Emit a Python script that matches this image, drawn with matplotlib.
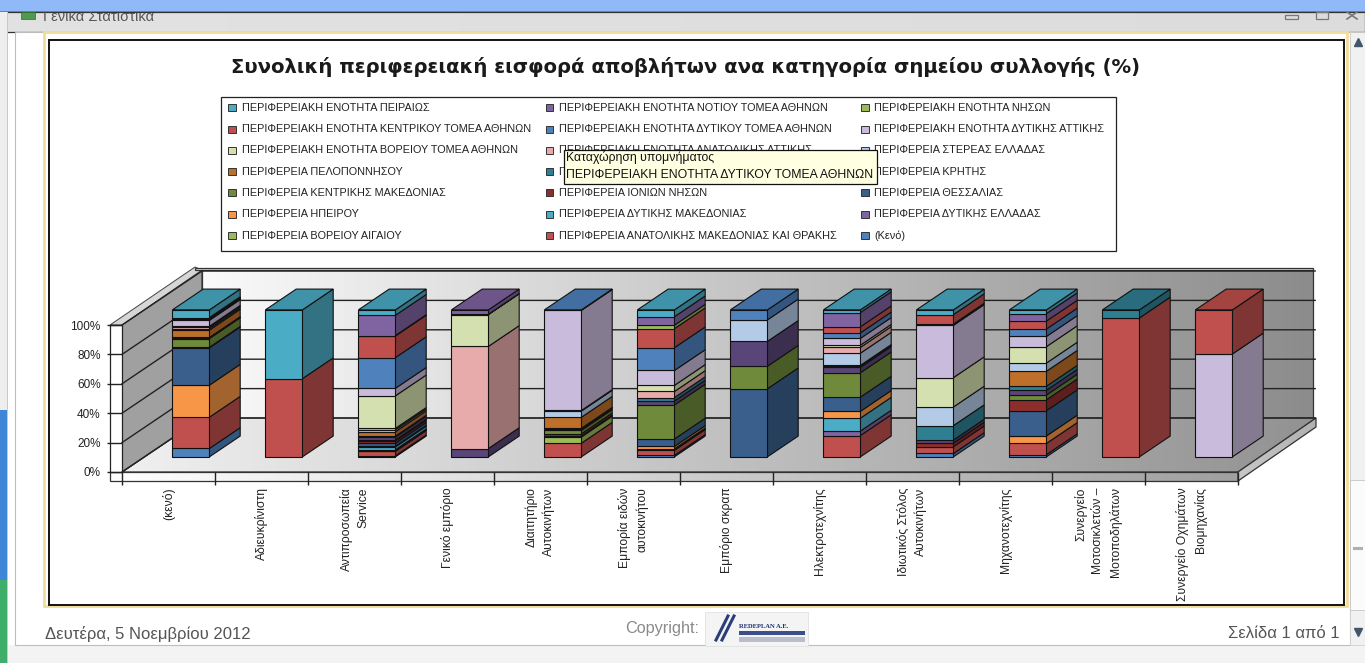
import numpy as np
import matplotlib
matplotlib.use("Agg")
import matplotlib.pyplot as plt
from matplotlib.colors import LinearSegmentedColormap, to_rgb
from matplotlib.patches import Polygon, Rectangle

plt.rcParams['font.family'] = ['Liberation Sans', 'DejaVu Sans']

title = "Συνολική περιφερειακή εισφορά αποβλήτων ανα κατηγορία σημείου συλλογής (%)"

categories = ["(κενό)", "Αδιευκρίνιστη", "Αντιπροσωπεία\nService", "Γενικό εμπόριο",
              "Διαιτητήριο\nΑυτοκινήτων", "Εμπορία ειδών\nαυτοκινήτου", "Εμπόριο σκραπ",
              "Ηλεκτροτεχνίτης", "Ιδιωτικός Στόλος\nΑυτοκινήτων", "Μηχανοτεχνίτης",
              "Συνεργείο\nΜοτοσικλετών –\nΜοτοποδηλάτων", "Συνεργείο Οχημάτων\nΒιομηχανίας"]

# stack order, bottom to top (the legend lists them the other way round)
series_names = ["(Κενό)",
                "ΠΕΡΙΦΕΡΕΙΑ ΑΝΑΤΟΛΙΚΗΣ ΜΑΚΕΔΟΝΙΑΣ ΚΑΙ ΘΡΑΚΗΣ",
                "ΠΕΡΙΦΕΡΕΙΑ ΒΟΡΕΙΟΥ ΑΙΓΑΙΟΥ",
                "ΠΕΡΙΦΕΡΕΙΑ ΔΥΤΙΚΗΣ ΕΛΛΑΔΑΣ",
                "ΠΕΡΙΦΕΡΕΙΑ ΔΥΤΙΚΗΣ ΜΑΚΕΔΟΝΙΑΣ",
                "ΠΕΡΙΦΕΡΕΙΑ ΗΠΕΙΡΟΥ",
                "ΠΕΡΙΦΕΡΕΙΑ ΘΕΣΣΑΛΙΑΣ",
                "ΠΕΡΙΦΕΡΕΙΑ ΙΟΝΙΩΝ ΝΗΣΩΝ",
                "ΠΕΡΙΦΕΡΕΙΑ ΚΕΝΤΡΙΚΗΣ ΜΑΚΕΔΟΝΙΑΣ",
                "ΠΕΡΙΦΕΡΕΙΑ ΚΡΗΤΗΣ",
                "ΠΕΡΙΦΕΡΕΙΑ ΝΟΤΙΟΥ ΑΙΓΑΙΟΥ",
                "ΠΕΡΙΦΕΡΕΙΑ ΠΕΛΟΠΟΝΝΗΣΟΥ",
                "ΠΕΡΙΦΕΡΕΙΑ ΣΤΕΡΕΑΣ ΕΛΛΑΔΑΣ",
                "ΠΕΡΙΦΕΡΕΙΑΚΗ ΕΝΟΤΗΤΑ ΑΝΑΤΟΛΙΚΗΣ ΑΤΤΙΚΗΣ",
                "ΠΕΡΙΦΕΡΕΙΑΚΗ ΕΝΟΤΗΤΑ ΒΟΡΕΙΟΥ ΤΟΜΕΑ ΑΘΗΝΩΝ",
                "ΠΕΡΙΦΕΡΕΙΑΚΗ ΕΝΟΤΗΤΑ ΔΥΤΙΚΗΣ ΑΤΤΙΚΗΣ",
                "ΠΕΡΙΦΕΡΕΙΑΚΗ ΕΝΟΤΗΤΑ ΔΥΤΙΚΟΥ ΤΟΜΕΑ ΑΘΗΝΩΝ",
                "ΠΕΡΙΦΕΡΕΙΑΚΗ ΕΝΟΤΗΤΑ ΚΕΝΤΡΙΚΟΥ ΤΟΜΕΑ ΑΘΗΝΩΝ",
                "ΠΕΡΙΦΕΡΕΙΑΚΗ ΕΝΟΤΗΤΑ ΝΗΣΩΝ",
                "ΠΕΡΙΦΕΡΕΙΑΚΗ ΕΝΟΤΗΤΑ ΝΟΤΙΟΥ ΤΟΜΕΑ ΑΘΗΝΩΝ",
                "ΠΕΡΙΦΕΡΕΙΑΚΗ ΕΝΟΤΗΤΑ ΠΕΙΡΑΙΩΣ"]

# percentages, one list per series, one value per category
keno = [5.7, 0, .7, 0, 0, 1, 0, 0, 2.3, 1.5, 0, 0]
amth = [21.2, 0, 3, 0, 9.1, 3.4, 0, 14.4, 4.6, 7.5, 94.5, 0]
v_aigaio = [0, 0, .5, 0, 4.1, .6, 0, 0, 0, 0, 0, 0]
d_ellada = [0, 0, .5, 0, .6, .4, 0, 3, 0, 0, 0, 0]
d_makedonia = [0, 0, 2, 0, 0, 0, 0, 8.7, 0, 0, 0, 0]
ipeiros = [21.7, 0, .4, 0, 0, 1.6, 0, 4.6, 0, 5, 0, 0]
thessalia = [25.3, 0, 2, 0, 0, 5, 46.3, 9.6, 0, 16.9, 0, 0]
ionia = [.4, 0, 1.5, 0, 1.5, 0, 0, 0, 2.5, 7.3, 0, 0]
k_makedonia = [5.9, 0, .6, 0, 2.3, 22.8, 15.3, 16.4, 0, 3.2, 0, 0]
kriti = [.4, 0, 2, 5.7, 1, 2.7, 16.9, 3.7, 2, 3.2, 0, 0]
n_aigaio = [.3, 0, .6, 0, .4, 2.3, 0, .8, 9.8, 2.7, 5.5, 0]
peloponnisos = [5, 0, 3, 0, 7.3, 0, 0, .5, 0, 10, 0, 0]
sterea = [1, 0, 1.2, 0, 4.1, 0, 14.6, 8.2, 12.6, 5.5, 0, 0]
an_attiki = [1, 0, 1, 69.6, 0, 4.1, 0, 3.9, 0, 0, 0, 0]
voreios = [.6, 0, 21.7, 21.7, .4, 4.1, 0, 1.5, 19.9, 11, 0, 0]
dyt_attiki = [4, 0, 5, 0, 66.4, 10, 0, 4.6, 35.4, 6.8, 0, 70]
dytikos = [.6, 0, 20.5, 0, .3, 15.3, 6.8, 3.7, .9, 5, 0, 0]
kentrikos = [.5, 53.2, 14.4, 0, 0, 12.8, 0, 4.1, 6.4, 5.3, 0, 30]
nisoi = [.3, 0, .3, .2, 0, 2.3, 0, 0, 0, 0, 0, 0]
notios = [.5, 0, 13.5, 3, 0, 5.7, 0, 9.6, 0, 5, 0, 0]
peiraias = [5.2, 46.8, 3.6, 0, 0, 4.6, 0, 1.8, 3.2, 2.5, 0, 0]

all_series = [keno, amth, v_aigaio, d_ellada, d_makedonia, ipeiros, thessalia, ionia,
              k_makedonia, kriti, n_aigaio, peloponnisos, sterea, an_attiki, voreios,
              dyt_attiki, dytikos, kentrikos, nisoi, notios, peiraias]

colors = ['#4F81BD', '#C0504D', '#9BBB59', '#8064A2', '#4BACC6', '#F79646',
          '#3A5F8C', '#8C2F2C', '#6F8A3A', '#5A4578', '#2F7F93', '#BE6F2A',
          '#B3CBE6', '#E6ABAA', '#D4E0B0', '#C9BBDC', '#4F81BD', '#C0504D',
          '#9BBB59', '#8064A2', '#4BACC6']

fig = plt.figure(figsize=(13.65, 6.63), dpi=100)

# page furniture, in screen pixels
page = fig.add_axes([0, 0, 1, 1])
page.set_xlim(0, 1365)
page.set_ylim(663, 0)
page.axis('off')


def shaded(pts, left, right, z=1):
    # polygon filled with a left to right grey ramp
    xs = [p[0] for p in pts]
    ys = [p[1] for p in pts]
    cm = LinearSegmentedColormap.from_list('g', [left, right])
    im = page.imshow(np.linspace(0, 1, 256)[None, :], cmap=cm, aspect='auto', zorder=z,
                     extent=(min(xs), max(xs), max(ys), min(ys)))
    im.set_clip_path(Polygon(pts, transform=page.transData))
    page.add_patch(Polygon(pts, closed=True, fill=False, ec='#333333', lw=0.9, zorder=z))


page.add_patch(Rectangle((0, 0), 1365, 663, fc='#ffffff', ec='none', zorder=0))
shaded([(0, 12), (1365, 12), (1365, 32), (0, 32)], '#e2e2e2', '#dcdcdc', z=0.2)
page.add_patch(Rectangle((0, 645), 1365, 18, fc='#f3f3f3', ec='none', zorder=0.2))
page.add_patch(Rectangle((0, 0), 1365, 12, fc='#8fbaf7', ec='none', zorder=3))
page.add_patch(Rectangle((0, 10.5), 1365, 1.5, fc='#4a86d8', ec='none', zorder=3))
page.add_patch(Rectangle((0, 12), 7, 398, fc='#eeeeee', ec='none', zorder=0.3))
page.add_patch(Rectangle((0, 410), 7, 170, fc='#3f86d6', ec='none', zorder=0.3))
page.add_patch(Rectangle((0, 580), 7, 83, fc='#3fae6b', ec='none', zorder=0.3))
page.add_patch(Rectangle((7, 12), 1.2, 651, fc='#c8c8c8', ec='none', zorder=0.3))
page.add_patch(Rectangle((15, 32), 1335, 613, fc='#ffffff', ec='#bdbdbd', lw=0.8, zorder=0.4))
page.add_patch(Rectangle((44, 32), 1303, 574, fc='none', ec='#f2dc9a', lw=2, zorder=0.5))
page.add_patch(Rectangle((48.5, 40), 1295.5, 565, fc='#ffffff', ec='#111111', lw=1.4, zorder=0.6))

page.add_patch(Rectangle((1350, 32), 15, 613, fc='#f1f1f1', ec='#d0d0d0', lw=0.6, zorder=0.7))
page.add_patch(Rectangle((1350, 480), 15, 130, fc='#fbfbfb', ec='#c4c4c4', lw=0.6, zorder=0.8))
page.plot([1354, 1361], [548, 548], color='#b0b0b0', lw=2.2, zorder=1)
page.plot([1358], [42], marker='^', ms=6, color='#44546a', zorder=1)
page.plot([1358], [632], marker='v', ms=6, color='#44546a', zorder=1)

page.add_patch(Rectangle((21, 12), 14, 7, fc='#4f9a4f', ec='#2f6f2f', lw=0.5, zorder=1))
page.text(43, 17, "Γενικά Στατιστικά", fontsize=10.5, color='#555555', va='center', ha='left', zorder=2)
page.add_patch(Rectangle((1285, 15), 13, 4, fc='none', ec='#777777', lw=0.9, zorder=2))
page.add_patch(Rectangle((1316, 12), 12, 7, fc='none', ec='#777777', lw=0.9, zorder=2))
page.plot([1347, 1357], [12, 19], color='#777777', lw=1.2, zorder=2)
page.plot([1347, 1357], [19, 12], color='#777777', lw=1.2, zorder=2)

# 3D walls and floor
shaded([(202, 270), (1313, 270), (1313, 418), (202, 418)], '#fafafa', '#8c8c8c', z=1)
shaded([(122, 472), (1238, 472), (1316, 418), (202, 418)], '#f0f0f0', '#929292', z=1)
shaded([(110, 472), (1238, 472), (1238, 481), (110, 481)], '#ffffff', '#a0a0a0', z=1.5)
shaded([(1238, 472), (1316, 418), (1316, 427), (1238, 481)], '#c8c8c8', '#b0b0b0', z=1.5)
page.add_patch(Polygon([(122, 325), (202, 270), (202, 418), (122, 472)], fc='#a0a0a0', ec='#333333', lw=0.9, zorder=1.5))
page.add_patch(Polygon([(110, 325), (122, 325), (202, 270), (195, 267)], fc='#d6d6d6', ec='#444444', lw=0.7, zorder=1.5))
page.add_patch(Rectangle((110, 325), 12, 147, fc='#ffffff', ec='#222222', lw=0.9, zorder=1.5))
page.add_patch(Rectangle((195, 267.5), 1118, 2.5, fc='#dddddd', ec='#333333', lw=0.9, zorder=1.5))

page.text(685.5, 67, title, fontsize=14.1, fontweight='bold', family='DejaVu Sans', color='#1a1a1a',
          ha='center', va='center', zorder=2)

# legend box, filled row by row from the end of the stack order
page.add_patch(Rectangle((220.5, 97), 895.5, 154, fc='#ffffff', ec='#222222', lw=0.9, zorder=2))
col_x = [232, 549.5, 865]
row_y = [107.7, 129, 150.3, 171.7, 192.8, 214, 235.7]
for r, y in enumerate(row_y):
    for c, x in enumerate(col_x):
        i = len(all_series) - 1 - (r * 3 + c)
        page.add_patch(Rectangle((x - 4, y - 3.5), 7.5, 7, fc=colors[i], ec='#333333', lw=0.7, zorder=2.1))
        page.text(x + 9.5, y, series_names[i], fontsize=7.85, color='#222222', va='center', ha='left', zorder=2.1)

# tooltip sits over the legend
page.add_patch(Rectangle((563.5, 150), 313.5, 34, fc='#ffffe1', ec='#111111', lw=0.9, zorder=2.5))
page.text(566, 158, "Καταχώρηση υπομνήματος", fontsize=8.85, color='#111111', va='center', ha='left', zorder=2.6)
page.text(566, 175, "ΠΕΡΙΦΕΡΕΙΑΚΗ ΕΝΟΤΗΤΑ ΔΥΤΙΚΟΥ ΤΟΜΕΑ ΑΘΗΝΩΝ", fontsize=8.85, color='#111111', va='center', ha='left', zorder=2.6)

# footer
page.text(45, 634, "Δευτέρα, 5 Νοεμβρίου 2012", fontsize=12, color='#555555', va='center', ha='left', zorder=2)
page.text(625, 628, "Copyright:", fontsize=11.7, color='#8a8a8a', va='center', ha='left', zorder=2)
page.text(1340, 634, "Σελίδα 1 από 1", fontsize=12, color='#555555', va='center', ha='right', zorder=2)
page.add_patch(Rectangle((705, 612), 103, 34, fc='#f4f4f4', ec='#dddddd', lw=0.5, zorder=1))
page.plot([716, 728], [640, 616], color='#2a3f7a', lw=2.2, zorder=2)
page.plot([722, 734], [640, 616], color='#2a3f7a', lw=2.2, zorder=2)
page.text(739, 626, "REDEPLAN A.E.", fontsize=4.8, fontweight='bold', family='Liberation Serif', color='#1f2f70', va='center', ha='left', zorder=2)
page.add_patch(Rectangle((739, 631), 66, 4, fc='#3c4f8c', ec='none', zorder=2))
page.add_patch(Rectangle((739, 637), 66, 5, fc='#b9bdcc', ec='none', zorder=2))

# chart axes: x in categories, y in percent
ax = fig.add_axes([122 / 1365, (663 - 472) / 663, 1116 / 1365, 147 / 663], zorder=2)
ax.patch.set_alpha(0)
ax.set_xlim(0, len(categories))
ax.set_ylim(0, 100)
for s in ax.spines.values():
    s.set_visible(False)

depth_x = 80 / 93      # full floor depth, in category widths
depth_y = 54 / 1.47    # full floor depth, in percent units
bar_front = 0.28
bar_depth = 0.385
bar_width = 37 / 93
edge = '#111111'


def darker(c, f):
    return tuple(v * f for v in to_rgb(c))


yticks = [0, 20, 40, 60, 80, 100]
ax.set_yticks(yticks)
ax.set_yticklabels([f"{v}%" for v in yticks], fontsize=8.5, color='#222222')
ax.tick_params(axis='y', length=10.8, width=1, color='#222222', pad=4.5)
ax.set_xticks(np.arange(len(categories) + 1))
ax.set_xticklabels([])
ax.tick_params(axis='x', which='major', length=9.5, width=1, color='#222222')
ax.set_xticks(np.arange(len(categories)) + 0.5, minor=True)
ax.set_xticklabels(categories, minor=True, rotation=90, fontsize=8.7, color='#222222',
                   va='top', ha='center', multialignment='right', linespacing=1.5)
ax.tick_params(axis='x', which='minor', length=0, pad=11)

# gridlines along back wall and left wall
for v in yticks:
    ax.plot([0, depth_x, len(categories) + depth_x - 0.03],
            [v, v + depth_y, v + depth_y], color='#222222', lw=1.0, zorder=1, clip_on=False)

values = np.array(all_series, dtype=float)
values = values / values.sum(axis=0) * 100  # the chart is a 100% stack

x0 = np.arange(len(categories)) + 0.5 + bar_front * depth_x
left = x0 - bar_width / 2
right = x0 + bar_width / 2
dx = bar_depth * depth_x
dy = bar_depth * depth_y
base = bar_front * depth_y
bottom = np.zeros(len(categories))
for i, vals in enumerate(values):
    for k, v in enumerate(vals):
        if v <= 0:
            continue
        y0 = bottom[k] + base
        y1 = y0 + v
        ax.fill([right[k], right[k] + dx, right[k] + dx, right[k]],
                [y0, y0 + dy, y1 + dy, y1],
                fc=darker(colors[i], 0.66), ec=edge, lw=0.8, zorder=3, clip_on=False)
        if i == np.max(np.nonzero(values[:, k])):
            ax.fill([left[k], right[k], right[k] + dx, left[k] + dx],
                    [y1, y1, y1 + dy, y1 + dy],
                    fc=darker(colors[i], 0.85), ec=edge, lw=0.8, zorder=3, clip_on=False)
    ax.bar(x0, vals, bar_width, bottom=bottom + base, color=colors[i], edgecolor=edge,
           linewidth=[0.8 if v > 0 else 0 for v in vals], zorder=4, clip_on=False)
    bottom += vals

page.set_xlim(0, 1365)
page.set_ylim(663, 0)
fig.savefig("out.png", dpi=100)
